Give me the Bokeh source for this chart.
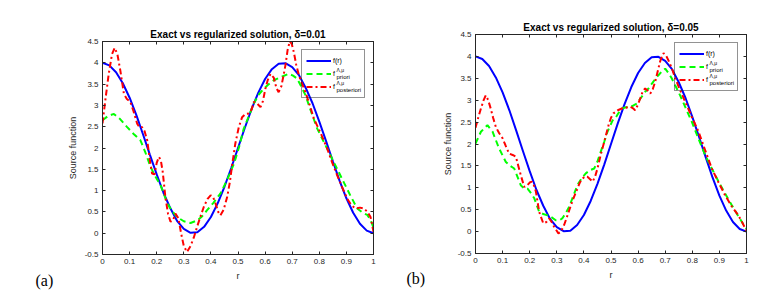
from bokeh.plotting import figure
from bokeh.layouts import row
from bokeh.models import Range1d, FixedTicker, LinearAxis, Legend, LegendItem
from bokeh.core.properties import value
from bokeh.embed import file_html
from bokeh.resources import INLINE

# ---------------- data ----------------
r_exact = [0, 0.025, 0.05, 0.075, 0.1, 0.125, 0.15, 0.175, 0.2, 0.225, 0.25, 0.275, 0.3,
           0.325, 0.35, 0.375, 0.4, 0.425, 0.45, 0.475, 0.5, 0.525, 0.55, 0.575, 0.6,
           0.625, 0.65, 0.675, 0.7, 0.725, 0.75, 0.775, 0.8, 0.825, 0.85, 0.875, 0.9,
           0.925, 0.95, 0.975, 1.0]
f_exact = [4.0, 3.94, 3.78, 3.52, 3.18, 2.77, 2.31, 1.84, 1.38, 0.95, 0.59, 0.29, 0.10,
           0.01, 0.02, 0.15, 0.38, 0.70, 1.09, 1.53, 2.0, 2.47, 2.91, 3.30, 3.62,
           3.85, 3.98, 3.99, 3.90, 3.71, 3.41, 3.05, 2.62, 2.16, 1.69, 1.23, 0.82,
           0.48, 0.22, 0.06, 0.0]

# panel (a), delta = 0.01
r_prior_a = [0, 0.02, 0.042, 0.065, 0.091, 0.115, 0.14, 0.158, 0.177, 0.195, 0.214, 0.225,
             0.239, 0.257, 0.275, 0.3, 0.325, 0.35, 0.368, 0.386, 0.41, 0.435, 0.46, 0.485,
             0.503, 0.521, 0.54, 0.558, 0.576, 0.595, 0.614, 0.632, 0.66, 0.687, 0.703,
             0.718, 0.733, 0.749, 0.77, 0.792, 0.816, 0.841, 0.865, 0.89, 0.915, 0.94,
             0.96, 0.977, 0.99, 1.0]
f_prior_a = [2.65, 2.75, 2.8, 2.68, 2.49, 2.33, 2.18, 1.9, 1.56, 1.33, 1.13, 0.95,
             0.70, 0.52, 0.38, 0.28, 0.24, 0.3, 0.4, 0.54, 0.72, 0.93, 1.25, 1.63,
             2.0, 2.45, 2.75, 3.04, 3.25, 3.39, 3.5, 3.59, 3.67, 3.74, 3.7,
             3.63, 3.45, 3.24, 2.85, 2.46, 2.15, 1.83, 1.52, 1.20, 0.88, 0.58,
             0.48, 0.43, 0.3, 0.13]
r_post_a = [0, 0.012, 0.023, 0.035, 0.045, 0.055, 0.066, 0.079, 0.09, 0.103, 0.115, 0.128,
            0.137, 0.146, 0.155, 0.165, 0.175, 0.183, 0.192, 0.2, 0.208, 0.215, 0.222,
            0.232, 0.242, 0.251, 0.26, 0.269, 0.28, 0.29, 0.3, 0.312, 0.325, 0.337, 0.349,
            0.362, 0.374, 0.387, 0.399, 0.408, 0.417, 0.427, 0.435, 0.447, 0.46, 0.47,
            0.479, 0.49, 0.503, 0.515, 0.528, 0.54, 0.55, 0.558, 0.57, 0.583, 0.592,
            0.601, 0.61, 0.62, 0.632, 0.642, 0.65, 0.66, 0.668, 0.675, 0.683, 0.691,
            0.698, 0.706, 0.715, 0.725, 0.737, 0.749, 0.765, 0.78, 0.805, 0.829, 0.848,
            0.866, 0.885, 0.903, 0.918, 0.934, 0.95, 0.964, 0.978, 0.989, 0.995, 1.0]
f_post_a = [2.58, 3.2, 3.74, 4.2, 4.35, 4.2, 3.81, 3.27, 3.15, 3.08, 2.85, 2.57,
            2.48, 2.49, 2.4, 2.18, 1.7, 1.40, 1.38, 1.65, 1.79, 1.72, 1.45,
            0.85, 0.45, 0.27, 0.3, 0.46, 0.35, 0.0, -0.3, -0.44, -0.3, -0.1, 0.15,
            0.4, 0.62, 0.8, 0.89, 0.85, 0.70, 0.5, 0.42, 0.55, 0.85, 1.2,
            1.63, 2.1, 2.49, 2.72, 2.8, 2.81, 2.9, 3.08, 3.05, 2.96, 3.1,
            3.39, 3.6, 3.74, 3.65, 3.4, 3.31, 3.45, 3.7, 3.94, 4.3, 4.5,
            4.45, 4.25, 3.95, 3.70, 3.5, 3.31, 3.0, 2.69, 2.35, 1.99, 1.65,
            1.36, 1.07, 0.81, 0.66, 0.58, 0.6, 0.58, 0.5, 0.38, 0.2, 0.03]

# panel (b), delta = 0.05
r_prior_b = [0, 0.02, 0.044, 0.063, 0.087, 0.112, 0.128, 0.143, 0.155, 0.167, 0.18, 0.192,
             0.205, 0.217, 0.235, 0.25, 0.266, 0.28, 0.296, 0.31, 0.32, 0.333, 0.346, 0.36,
             0.376, 0.392, 0.407, 0.422, 0.438, 0.45, 0.462, 0.475, 0.487, 0.506, 0.515,
             0.527, 0.54, 0.555, 0.571, 0.583, 0.595, 0.61, 0.626, 0.64, 0.651, 0.663,
             0.675, 0.688, 0.7, 0.712, 0.724, 0.74, 0.755, 0.777, 0.798, 0.823, 0.848,
             0.872, 0.897, 0.921, 0.946, 0.972, 0.99, 1.0]
f_prior_b = [2.01, 2.28, 2.43, 2.28, 1.90, 1.59, 1.5, 1.44, 1.25, 1.06, 0.98, 0.98,
             0.88, 0.76, 0.45, 0.4, 0.37, 0.33, 0.26, 0.26, 0.3, 0.42, 0.57, 0.8,
             1.06, 1.22, 1.33, 1.4, 1.44, 1.6, 1.82, 2.05, 2.28, 2.54, 2.58,
             2.7, 2.81, 2.84, 2.85, 2.88, 2.92, 3.05, 3.19, 3.28, 3.38, 3.48,
             3.57, 3.66, 3.72, 3.62, 3.50, 3.3, 3.11, 2.8, 2.51, 2.12, 1.74,
             1.44, 1.14, 0.87, 0.60, 0.33, 0.15, 0.07]
r_post_b = [0, 0.01, 0.02, 0.03, 0.038, 0.047, 0.056, 0.065, 0.075, 0.087, 0.1, 0.112,
            0.124, 0.137, 0.149, 0.158, 0.167, 0.18, 0.19, 0.2, 0.208, 0.216, 0.223,
            0.235, 0.25, 0.262, 0.272, 0.281, 0.29, 0.306, 0.315, 0.327, 0.34, 0.352,
            0.364, 0.376, 0.385, 0.395, 0.404, 0.413, 0.422, 0.432, 0.441, 0.45, 0.462,
            0.475, 0.491, 0.5, 0.509, 0.525, 0.54, 0.555, 0.571, 0.58, 0.589, 0.598,
            0.608, 0.617, 0.626, 0.635, 0.645, 0.654, 0.663, 0.672, 0.681, 0.688, 0.694,
            0.703, 0.712, 0.725, 0.737, 0.755, 0.774, 0.798, 0.823, 0.848, 0.872, 0.897,
            0.921, 0.945, 0.97, 0.985, 1.0]
f_post_b = [2.37, 2.6, 2.81, 3.0, 3.11, 3.0, 2.81, 2.6, 2.39, 2.25, 2.13, 1.95,
            1.78, 1.75, 1.71, 1.5, 1.29, 1.02, 1.05, 1.12, 1.14, 1.05, 0.91,
            0.45, 0.19, 0.22, 0.30, 0.22, 0.11, -0.04, 0.0, 0.15, 0.38, 0.60,
            0.8, 0.98, 1.12, 1.21, 1.26, 1.25, 1.2, 1.14, 1.25, 1.44, 1.75,
            2.05, 2.43, 2.6, 2.70, 2.77, 2.81, 2.83, 2.85, 2.82, 2.77, 2.88,
            3.04, 3.2, 3.27, 3.22, 3.15, 3.25, 3.42, 3.65, 3.88, 4.0, 4.07,
            4.02, 3.91, 3.72, 3.50, 3.23, 2.96, 2.62, 2.28, 1.85, 1.44, 1.12,
            0.83, 0.58, 0.37, 0.2, 0.02]

x_ticks = [0, 0.1, 0.2, 0.3, 0.4, 0.5, 0.6, 0.7, 0.8, 0.9, 1]
x_tick_labels = ["0", "0.1", "0.2", "0.3", "0.4", "0.5", "0.6", "0.7", "0.8", "0.9", "1"]
y_ticks = [-0.5, 0, 0.5, 1, 1.5, 2, 2.5, 3, 3.5, 4, 4.5]
y_tick_labels = ["-0.5", "0", "0.5", "1", "1.5", "2", "2.5", "3", "3.5", "4", "4.5"]

titles = ["Exact vs regularized solution, \u03b4=0.01", "Exact vs regularized solution, \u03b4=0.05"]
x_label = "r"
y_label = "Source function"
legend_labels = ["f(r)", "f", "f"]
legend_sup = "\u039b,\u03bc"
legend_subs = ["priori", "posteriori"]
panel_tags = ["(a)", "(b)"]

FONT = "Liberation Sans"
TXT = "#262626"
FW = 271
# legend geometry (pixels)
L_MARGIN, L_PAD, L_GLYPH, L_STAND, L_LABW, L_ROW = 8, 4, 25, 2, 27, 13
L_WIDTH = 2 * L_PAD + L_GLYPH + L_STAND + L_LABW


def to_data(xpx, ypx_top, fh):
    # frame pixel offsets -> data coordinates (annotation placement only)
    return xpx / FW, 4.5 - 5.0 * ypx_top / fh


def make_panel(title, r_pr, f_pr, r_po, f_po, fh, ml, mr, mt, mb, tag, tag_px, ylab_standoff):
    p = figure(frame_width=FW, frame_height=fh, width=ml + FW + mr, height=mt + fh + mb,
               min_border_left=ml, min_border_right=mr, min_border_top=mt, min_border_bottom=mb,
               x_range=Range1d(0, 1), y_range=Range1d(-0.5, 4.5),
               output_backend="svg", toolbar_location=None, title=title)
    p.grid.visible = False
    p.outline_line_color = TXT
    p.outline_line_width = 1
    p.background_fill_color = "white"
    p.border_fill_color = "white"

    p.title.text_font = FONT
    p.title.text_font_size = "10px"
    p.title.text_font_style = "bold"
    p.title.text_color = "black"
    p.title.align = "center"
    p.title.standoff = 4
    p.title.offset = 0

    for ax, ticks, labs in ((p.xaxis[0], x_ticks, x_tick_labels), (p.yaxis[0], y_ticks, y_tick_labels)):
        ax.ticker = FixedTicker(ticks=ticks)
        ax.major_label_overrides = dict(zip(ticks, labs))
        ax.major_tick_in = 3
        ax.major_tick_out = 0
        ax.minor_tick_line_color = None
        ax.major_tick_line_color = TXT
        ax.axis_line_color = TXT
        ax.major_label_text_font = FONT
        ax.major_label_text_font_size = "8px"
        ax.major_label_text_color = TXT
        ax.major_label_standoff = 4
        ax.axis_label_text_font = FONT
        ax.axis_label_text_font_size = "9px"
        ax.axis_label_text_font_style = "normal"
        ax.axis_label_text_color = TXT
        ax.axis_label_standoff = 4
    p.yaxis.axis_label_standoff = ylab_standoff
    p.xaxis.axis_label = x_label
    p.yaxis.axis_label = y_label

    top = LinearAxis(ticker=FixedTicker(ticks=x_ticks),
                     major_label_overrides={t: "" for t in x_ticks}, major_label_text_font_size="1px",
                     major_tick_in=3, major_tick_out=0, minor_tick_line_color=None,
                     major_tick_line_color=TXT, axis_line_color=TXT, major_label_standoff=0)
    right = LinearAxis(ticker=FixedTicker(ticks=y_ticks),
                       major_label_overrides={t: "" for t in y_ticks}, major_label_text_font_size="1px",
                       major_tick_in=3, major_tick_out=0, minor_tick_line_color=None,
                       major_tick_line_color=TXT, axis_line_color=TXT, major_label_standoff=0)
    p.add_layout(top, "above")
    p.add_layout(right, "right")

    b = p.line(r_exact, f_exact, line_color="#0000ff", line_width=2)
    g = p.line(r_pr, f_pr, line_color="#00ff00", line_width=2, line_dash="6 4")
    rr = p.line(r_po, f_po, line_color="#ff0000", line_width=2, line_dash="6 3 2 3")

    items = [LegendItem(label=legend_labels[0], renderers=[b]),
             LegendItem(label=legend_labels[1], renderers=[g]),
             LegendItem(label=legend_labels[2], renderers=[rr])]
    leg = Legend(items=items, location="top_right", margin=L_MARGIN, padding=L_PAD, spacing=0,
                 glyph_width=L_GLYPH, glyph_height=L_ROW, label_height=L_ROW, label_width=L_LABW,
                 label_standoff=L_STAND, label_text_font=FONT, label_text_font_size="7px",
                 label_text_color="black", border_line_color=TXT, border_line_width=1,
                 background_fill_alpha=0)
    p.add_layout(leg)

    # legend super/subscripts
    xt = FW - L_MARGIN - L_WIDTH + L_PAD + L_GLYPH + L_STAND
    sup_x, sup_y, sub_x, sub_y = [], [], [], []
    for i in range(len(legend_subs)):
        rc = L_MARGIN + L_PAD + L_ROW / 2 + L_ROW * (i + 1)
        ax_, ay_ = to_data(xt + 2.0, rc - 3.5, fh)
        bx_, by_ = to_data(xt + 2.0, rc + 3.5, fh)
        sup_x.append(ax_)
        sup_y.append(ay_)
        sub_x.append(bx_)
        sub_y.append(by_)
    p.text(x=sup_x, y=sup_y, text=[legend_sup] * len(legend_subs), text_font=value(FONT),
           text_font_size=value("5px"), text_baseline="middle", text_color="black", level="overlay")
    p.text(x=sub_x, y=sub_y, text=legend_subs, text_font=value(FONT),
           text_font_size=value("6px"), text_baseline="middle", text_color="black", level="overlay")

    # panel tag (a)/(b)
    tx, ty = to_data(tag_px[0], fh + tag_px[1], fh)
    p.text(x=[tx], y=[ty], text=[tag], text_font=value("Liberation Serif"),
           text_font_size=value("16px"), text_baseline="middle", text_color="black",
           level="overlay")
    return p


p1 = make_panel(titles[0], r_prior_a, f_prior_a, r_post_a, f_post_a,
                213, 102, 25, 34, 42, panel_tags[0], (-67, 26), 4)
p1.margin = (7, 0, 0, 0)
p2 = make_panel(titles[1], r_prior_b, f_prior_b, r_post_b, f_post_b,
                219, 77, 30, 34, 43, panel_tags[1], (-69, 25), 2)

layout = row(p1, p2)
open("out.html", "w").write(file_html(layout, INLINE))
